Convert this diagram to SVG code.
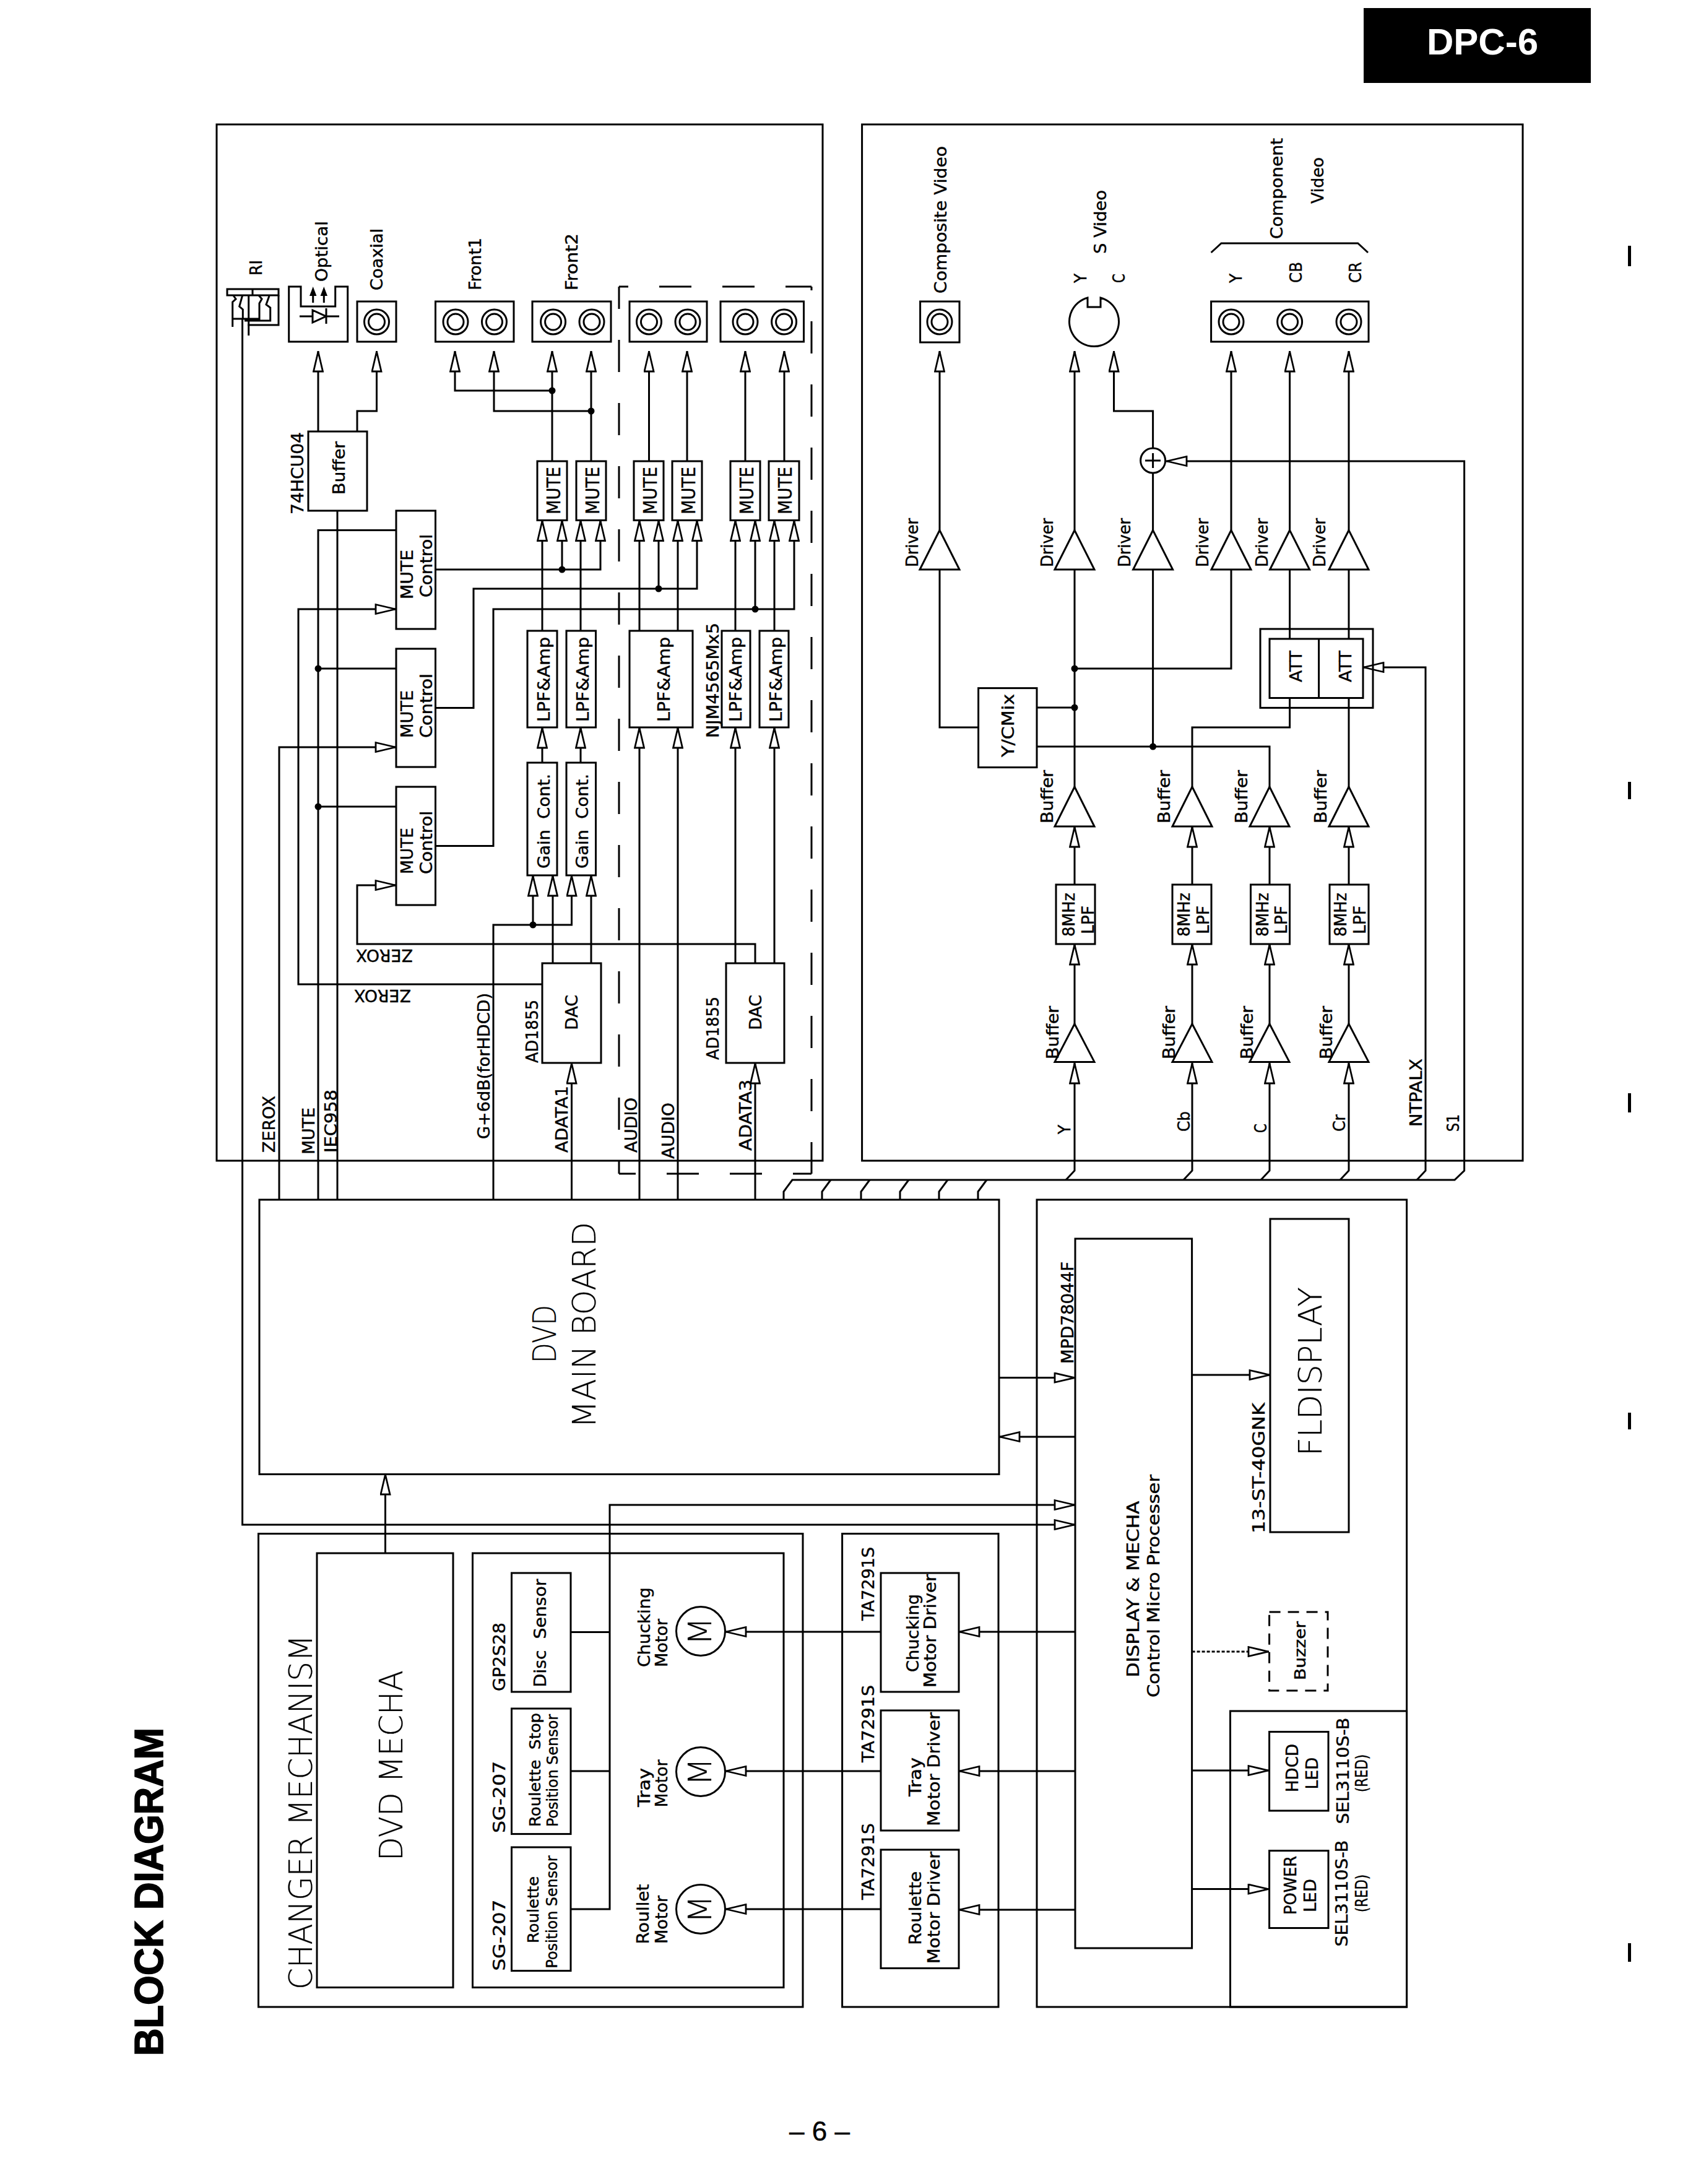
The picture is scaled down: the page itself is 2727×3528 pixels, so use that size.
<svg xmlns="http://www.w3.org/2000/svg" width="2727" height="3528" viewBox="0 0 2727 3528">
<style>
text{font-family:"DejaVu Sans","Liberation Sans",sans-serif;fill:#000;font-size:27px;stroke:#000;stroke-width:.45px}
.s24{font-size:24px}.s30{font-size:30px}
.big{font-size:52px;font-weight:200;stroke-width:.2px}
.head{font-family:"Liberation Sans",Arial,sans-serif;font-weight:700}
.mid{text-anchor:middle}
.box,.wire,.arr,.dash{fill:none;stroke:#000;stroke-width:3;stroke-linejoin:miter}
.arr{marker-end:url(#head)}
.dash{stroke-dasharray:52 50}
.buzz{stroke-dasharray:18 12}
.dot{fill:#000;stroke:none}
.ink{fill:#000;stroke:none}
</style>
<defs>
<marker id="head" markerUnits="userSpaceOnUse" viewBox="0 0 36 18" refX="35" refY="9" markerWidth="36" markerHeight="18" orient="auto">
<path d="M2,1.5 L34,9 L2,16.5 Z" fill="#fff" stroke="#000" stroke-width="2.8"/>
</marker>
</defs>
<rect width="2727" height="3528" fill="#fff"/>

<!-- page furniture -->
<g id="page">
<rect class="ink" x="2203" y="13" width="367" height="121"/>
<text class="head" x="2305" y="88" style="font-size:60px;fill:#fff;stroke:none" textLength="180" lengthAdjust="spacingAndGlyphs">DPC-6</text>
<text class="head" transform="translate(263 3321) rotate(-90)" style="font-size:64px;stroke-width:1.6px" textLength="530" lengthAdjust="spacingAndGlyphs">BLOCK DIAGRAM</text>
<text class="head mid" x="1324" y="3458" style="font-weight:400;font-size:44px">– 6 –</text>
<rect class="ink" x="2630" y="397" width="5" height="33"/>
<rect class="ink" x="2630" y="1263" width="5" height="28"/>
<rect class="ink" x="2630" y="1766" width="5" height="31"/>
<rect class="ink" x="2630" y="2282" width="5" height="27"/>
<rect class="ink" x="2630" y="3139" width="5" height="30"/>
</g>

<!-- enclosing panels -->
<g id="panels">
<rect id="panel-audio" class="box" x="350" y="201" width="979" height="1674"/>
<rect id="panel-video" class="box" x="1392.6" y="201" width="1067.4" height="1674"/>
<rect id="panel-changer" class="box" x="417.5" y="2477.5" width="879.5" height="764.5"/>
<rect id="panel-drivers" class="box" x="1360.6" y="2477.5" width="252.4" height="764.5"/>
<rect id="panel-control" class="box" x="1675" y="1938" width="597.6" height="1304"/>
<rect id="panel-leds" class="box" x="1987.5" y="2764" width="285.1" height="478"/>
<g id="panel-rear-outputs">
<path class="dash" style="stroke-dashoffset:37" d="M1000 463 H1311"/>
<path class="dash" style="stroke-dashoffset:46" d="M1311 463 V1896"/>
<path class="dash" style="stroke-dashoffset:22" d="M1311 1896 H1000"/>
<path class="dash" style="stroke-dashoffset:31" d="M1000 1896 V463"/>
</g>
</g>

<!-- signal wiring -->
<g id="connectors">
<path class="arr" d="M514 697 V567"/>
<path class="arr" d="M577 697 V664 H608.5 V567"/>
<path class="wire" d="M545 825 V1938"/>
<path class="arr" d="M892 745 V567"/><path class="arr" d="M955 745 V567"/>
<path class="arr" d="M1048.5 745 V567"/><path class="arr" d="M1110 745 V567"/>
<path class="arr" d="M1204 745 V567"/><path class="arr" d="M1267 745 V567"/>
<path class="arr" d="M892 631 H735 V567"/><path class="arr" d="M955 664 H798 V567"/>
<path class="wire" d="M640 856.5 H514 V1938"/><path class="wire" d="M514 1080 H640"/><path class="wire" d="M514 1303 H640"/>
<path class="arr" d="M451 1938 V1207 H640"/>
<path class="arr" d="M876 1590 H482 V984 H640"/>
<path class="arr" d="M1220 1556 V1525 H577 V1430 H640"/>
<path class="arr" d="M703.5 920 H970 V840.5"/><path class="arr" d="M908 920 V840.5"/>
<path class="arr" d="M703.5 1143.5 H765 V951 H1126 V840.5"/><path class="arr" d="M1064 951 V840.5"/>
<path class="arr" d="M703.5 1366.6 H797 V984 H1283 V840.5"/><path class="arr" d="M1220 984 V840.5"/>
<path class="arr" d="M876 1019 V840.5"/><path class="arr" d="M938 1019 V840.5"/>
<path class="arr" d="M1033 1019 V840.5"/><path class="arr" d="M1095 1019 V840.5"/>
<path class="arr" d="M1188 1019 V840.5"/><path class="arr" d="M1251 1019 V840.5"/>
<path class="arr" d="M876 1232 V1175"/><path class="arr" d="M938 1232 V1175"/>
<path class="arr" d="M1033 1938 V1175"/><path class="arr" d="M1095 1938 V1175"/>
<path class="arr" d="M1188 1556 V1175"/><path class="arr" d="M1251 1556 V1175"/>
<path class="arr" d="M797 1938 V1494 H923.5 V1414"/><path class="arr" d="M861 1494 V1414"/>
<path class="arr" d="M893 1556 V1414"/><path class="arr" d="M955 1556 V1414"/>
<path class="arr" d="M923.5 1938 V1717"/><path class="arr" d="M1220 1938 V1717"/>

<path class="arr" d="M391.6 515 V2463 H1737"/>
<path class="arr" d="M922 3084 H985 V2431 H1737"/>
<path class="wire" d="M922 2861 H985"/><path class="wire" d="M922 2636.5 H985"/>
<path class="arr" d="M622.5 2509 V2381"/>
<path class="arr" d="M1423 2636 H1172"/><path class="arr" d="M1423 2861 H1172"/><path class="arr" d="M1423 3084 H1172"/>
<path class="arr" d="M1737 2636 H1549"/><path class="arr" d="M1737 2861 H1549"/><path class="arr" d="M1737 3085 H1549"/>
<path class="arr" d="M1614 2225.6 H1737"/><path class="arr" d="M1737 2321 H1614"/>
<path class="arr" d="M1925.6 2221 H2052"/>
<path class="arr" style="stroke-dasharray:5 3" d="M1925.6 2668 H2050"/>
<path class="arr" d="M1925.6 2860 H2050"/><path class="arr" d="M1925.6 3051.6 H2050"/>

<path class="arr" d="M1266 1938 V1925 L1280 1906 H2350 L2365.6 1891 V745 H1884"/>
<path class="wire" d="M1328 1938 V1925 L1342 1906"/>
<path class="wire" d="M1391 1938 V1925 L1405 1906"/>
<path class="wire" d="M1454 1938 V1925 L1468 1906"/>
<path class="wire" d="M1517 1938 V1925 L1531 1906"/>
<path class="wire" d="M1580 1938 V1925 L1594 1906"/>
<path class="arr" d="M2289 1906 L2303 1891 V1078 H2202"/>
<path class="arr" d="M1722 1906 L1736 1891 V1717"/>
<path class="arr" d="M1912 1906 L1926 1891 V1717"/>
<path class="arr" d="M2037 1906 L2051 1891 V1717"/>
<path class="arr" d="M2165 1906 L2179 1891 V1717"/>
<path class="arr" d="M1736 1654 V1525"/><path class="arr" d="M1926 1654 V1525"/>
<path class="arr" d="M2051 1654 V1525"/><path class="arr" d="M2179 1654 V1525"/>
<path class="arr" d="M1736 1429 V1335"/><path class="arr" d="M1926 1429 V1335"/>
<path class="arr" d="M2051 1429 V1335"/><path class="arr" d="M2179 1429 V1335"/>
<path class="wire" d="M1736 1271 V920"/><path class="arr" d="M1736 856 V567"/>
<path class="wire" d="M1675 1143 H1736"/>
<path class="wire" d="M1736 1080 H1989 V920"/><path class="arr" d="M1989 856 V567"/>
<path class="wire" d="M1675 1206 H2051 V1271"/>
<path class="wire" d="M1862.6 1206 V920"/><path class="wire" d="M1862.6 856 V765"/>
<path class="arr" d="M1862.6 723 V664 H1799.5 V567"/>
<path class="wire" d="M1580.6 1175 H1518 V920"/><path class="arr" d="M1518 856 V567"/>
<path class="wire" d="M1926 1271 V1175 H2083.6 V1127.5"/>
<path class="wire" d="M2083.6 1032 V920"/><path class="arr" d="M2083.6 856 V567"/>
<path class="wire" d="M2179 1271 V1127.5"/><path class="wire" d="M2179 1032 V920"/><path class="arr" d="M2179 856 V567"/>

<g id="junctions">
<circle class="dot" cx="892" cy="631" r="5.5"/><circle class="dot" cx="955" cy="664" r="5.5"/>
<circle class="dot" cx="908" cy="920" r="5.5"/><circle class="dot" cx="1064" cy="951" r="5.5"/>
<circle class="dot" cx="1220" cy="984" r="5.5"/><circle class="dot" cx="514" cy="1080" r="5.5"/>
<circle class="dot" cx="514" cy="1303" r="5.5"/><circle class="dot" cx="861" cy="1494" r="5.5"/>
<circle class="dot" cx="1736" cy="1080" r="5.5"/><circle class="dot" cx="1736" cy="1143" r="5.5"/>
<circle class="dot" cx="1862.6" cy="1206" r="5.5"/>
</g>
</g>

<!-- audio board: output jacks -->
<g id="ri-jack">
<path class="box" d="M367 467 H450 V477 H367 Z M408 467 V477"/>
<path class="box" d="M376.7 477 L381 483 L375.7 488 V528 M391.7 477 L386.7 495 L392.3 500 V515 M401.7 477 V542 M418 477 L423 483 L419 490 V515 H376.7 M435 478 L430 492 L436.7 497 V518 H395 M450 477 V525 H400"/>
<text transform="translate(423 445) rotate(-90)" textLength="25" lengthAdjust="spacingAndGlyphs">RI</text>
</g>
<g id="optical-jack">
<path class="box" d="M466.7 463 H486 V495 H541.7 V463 H561.7 V552 H466.7 Z"/>
<path class="box" d="M505.7 489 V473 M523.3 489 V473"/>
<path class="ink" d="M505.7 463 L500 478 H511.4 Z M523.3 463 L517.6 478 H529 Z"/>
<path class="box" d="M484 511 H505 M505 501 V521 L526.7 511 Z M527 498 V523 M527 511 H548"/>
<text transform="translate(529 455) rotate(-90)" textLength="98" lengthAdjust="spacingAndGlyphs">Optical</text>
</g>
<g id="coaxial-jack">
<rect class="box" x="577" y="487" width="63" height="65"/><circle class="box" cx="608.5" cy="520" r="20"/><circle class="box" cx="608.5" cy="520" r="13"/>
<text transform="translate(618 469) rotate(-90)" textLength="100" lengthAdjust="spacingAndGlyphs">Coaxial</text>
</g>
<g id="front1-jack">
<rect class="box" x="703.5" y="487" width="126.5" height="65"/><circle class="box" cx="736" cy="520" r="20"/><circle class="box" cx="736" cy="520" r="13"/><circle class="box" cx="798.5" cy="520" r="20"/><circle class="box" cx="798.5" cy="520" r="13"/>
<text transform="translate(777 469) rotate(-90)" textLength="85" lengthAdjust="spacingAndGlyphs">Front1</text>
</g>
<g id="front2-jack">
<rect class="box" x="860" y="487" width="127" height="65"/><circle class="box" cx="893.6" cy="520" r="20"/><circle class="box" cx="893.6" cy="520" r="13"/><circle class="box" cx="956" cy="520" r="20"/><circle class="box" cx="956" cy="520" r="13"/>
<text transform="translate(933 469) rotate(-90)" textLength="92" lengthAdjust="spacingAndGlyphs">Front2</text>
</g>
<g id="rear1-jack">
<rect class="box" x="1017" y="487" width="125" height="65"/><circle class="box" cx="1048.5" cy="520" r="20"/><circle class="box" cx="1048.5" cy="520" r="13"/><circle class="box" cx="1111" cy="520" r="20"/><circle class="box" cx="1111" cy="520" r="13"/>
</g>
<g id="rear2-jack">
<rect class="box" x="1164" y="487" width="134.5" height="65"/><circle class="box" cx="1204" cy="520" r="20"/><circle class="box" cx="1204" cy="520" r="13"/><circle class="box" cx="1266.6" cy="520" r="20"/><circle class="box" cx="1266.6" cy="520" r="13"/>
</g>

<!-- audio board: processing blocks -->
<g id="buffer-74hcu04">
<rect class="box" x="498" y="697" width="95" height="128"/>
<text transform="translate(490 831) rotate(-90)" textLength="133" lengthAdjust="spacingAndGlyphs">74HCU04</text>
<text transform="translate(557 799) rotate(-90)" textLength="86" lengthAdjust="spacingAndGlyphs">Buffer</text>
</g>
<g id="mute-control-1">
<rect class="box" x="640" y="825" width="63.5" height="191"/>
<text transform="translate(666.5 968) rotate(-90)" textLength="80" lengthAdjust="spacingAndGlyphs">MUTE</text>
<text transform="translate(698 965) rotate(-90)" textLength="102" lengthAdjust="spacingAndGlyphs">Control</text>
</g>
<g id="mute-control-2">
<rect class="box" x="640" y="1048" width="63.5" height="191"/>
<text transform="translate(666.5 1192) rotate(-90)" textLength="77" lengthAdjust="spacingAndGlyphs">MUTE</text>
<text transform="translate(698 1192) rotate(-90)" textLength="104" lengthAdjust="spacingAndGlyphs">Control</text>
</g>
<g id="mute-control-3">
<rect class="box" x="640" y="1271" width="63.5" height="191"/>
<text transform="translate(666.5 1412) rotate(-90)" textLength="75" lengthAdjust="spacingAndGlyphs">MUTE</text>
<text transform="translate(698 1412) rotate(-90)" textLength="102" lengthAdjust="spacingAndGlyphs">Control</text>
</g>
<g id="mute-1"><rect class="box" x="868" y="745" width="48" height="95.5"/><text class="s30" transform="translate(905 831) rotate(-90)" textLength="77" lengthAdjust="spacingAndGlyphs">MUTE</text></g>
<g id="mute-2"><rect class="box" x="931" y="745" width="48" height="95.5"/><text class="s30" transform="translate(968 831) rotate(-90)" textLength="77" lengthAdjust="spacingAndGlyphs">MUTE</text></g>
<g id="mute-3"><rect class="box" x="1024" y="745" width="48" height="95.5"/><text class="s30" transform="translate(1061 831) rotate(-90)" textLength="77" lengthAdjust="spacingAndGlyphs">MUTE</text></g>
<g id="mute-4"><rect class="box" x="1086" y="745" width="48" height="95.5"/><text class="s30" transform="translate(1123 831) rotate(-90)" textLength="77" lengthAdjust="spacingAndGlyphs">MUTE</text></g>
<g id="mute-5"><rect class="box" x="1180" y="745" width="48" height="95.5"/><text class="s30" transform="translate(1217 831) rotate(-90)" textLength="77" lengthAdjust="spacingAndGlyphs">MUTE</text></g>
<g id="mute-6"><rect class="box" x="1242" y="745" width="49" height="95.5"/><text class="s30" transform="translate(1279 831) rotate(-90)" textLength="77" lengthAdjust="spacingAndGlyphs">MUTE</text></g>
<g id="lpf-amp-1"><rect class="box" x="852" y="1019" width="48" height="156"/><text transform="translate(888 1166) rotate(-90)" textLength="137" lengthAdjust="spacingAndGlyphs">LPF&amp;Amp</text></g>
<g id="lpf-amp-2"><rect class="box" x="915" y="1019" width="47.5" height="156"/><text transform="translate(951 1166) rotate(-90)" textLength="137" lengthAdjust="spacingAndGlyphs">LPF&amp;Amp</text></g>
<g id="lpf-amp-3"><rect class="box" x="1017" y="1019" width="102" height="156"/><text transform="translate(1082 1166) rotate(-90)" textLength="137" lengthAdjust="spacingAndGlyphs">LPF&amp;Amp</text></g>
<g id="lpf-amp-4"><rect class="box" x="1166" y="1019" width="46" height="156"/><text transform="translate(1198 1166) rotate(-90)" textLength="137" lengthAdjust="spacingAndGlyphs">LPF&amp;Amp</text></g>
<g id="lpf-amp-5"><rect class="box" x="1227" y="1019" width="47" height="156"/><text transform="translate(1263 1166) rotate(-90)" textLength="137" lengthAdjust="spacingAndGlyphs">LPF&amp;Amp</text></g>
<text id="opamp-label" transform="translate(1161 1192) rotate(-90)" textLength="186" lengthAdjust="spacingAndGlyphs">NJM4565Mx5</text>
<g id="gain-1"><rect class="box" x="852" y="1232" width="48" height="182"/><text transform="translate(888 1403) rotate(-90)" textLength="153" lengthAdjust="spacingAndGlyphs" xml:space="preserve">Gain  Cont.</text></g>
<g id="gain-2"><rect class="box" x="915" y="1232" width="47.5" height="182"/><text transform="translate(950 1403) rotate(-90)" textLength="153" lengthAdjust="spacingAndGlyphs" xml:space="preserve">Gain  Cont.</text></g>
<g id="dac-1">
<rect class="box" x="876" y="1556" width="95" height="161"/>
<text transform="translate(933 1664) rotate(-90)" textLength="57" lengthAdjust="spacingAndGlyphs">DAC</text>
<text transform="translate(869 1717) rotate(-90)" textLength="102" lengthAdjust="spacingAndGlyphs">AD1855</text>
</g>
<g id="dac-2">
<rect class="box" x="1173" y="1556" width="94" height="161"/>
<text transform="translate(1230 1664) rotate(-90)" textLength="57" lengthAdjust="spacingAndGlyphs">DAC</text>
<text transform="translate(1161 1712) rotate(-90)" textLength="102" lengthAdjust="spacingAndGlyphs">AD1855</text>
</g>

<!-- signal names on the audio board -->
<g id="audio-signal-labels">
<text transform="translate(667 1534) rotate(180)" textLength="92" lengthAdjust="spacingAndGlyphs">ZEROX</text>
<text transform="translate(664 1599) rotate(180)" textLength="92" lengthAdjust="spacingAndGlyphs">ZEROX</text>
<text transform="translate(444 1862) rotate(-90)" textLength="92" lengthAdjust="spacingAndGlyphs">ZEROX</text>
<text transform="translate(508 1865) rotate(-90)" textLength="76" lengthAdjust="spacingAndGlyphs">MUTE</text>
<text transform="translate(544 1862) rotate(-90)" textLength="102" lengthAdjust="spacingAndGlyphs">IEC958</text>
<text transform="translate(791 1840) rotate(-90)" textLength="236" lengthAdjust="spacingAndGlyphs">G+6dB(forHDCD)</text>
<text transform="translate(917 1862) rotate(-90)" textLength="108" lengthAdjust="spacingAndGlyphs">ADATA1</text>
<text transform="translate(1214 1859) rotate(-90)" textLength="115" lengthAdjust="spacingAndGlyphs">ADATA3</text>
<text transform="translate(1029 1862) rotate(-90)" textLength="89" lengthAdjust="spacingAndGlyphs">AUDIO</text>
<text transform="translate(1089 1872) rotate(-90)" textLength="91" lengthAdjust="spacingAndGlyphs">AUDIO</text>
</g>

<!-- video board: output jacks -->
<g id="composite-jack">
<rect class="box" x="1486.6" y="487" width="63.4" height="66"/><circle class="box" cx="1518" cy="520" r="20"/><circle class="box" cx="1518" cy="520" r="13"/>
<text transform="translate(1529 474) rotate(-90)" textLength="238" lengthAdjust="spacingAndGlyphs">Composite Video</text>
</g>
<g id="s-video-jack">
<path class="box" d="M1757 481 V496 H1778 V481 A40 40 0 1 1 1757 481 Z"/>
<text transform="translate(1755 457) rotate(-90)" textLength="15" lengthAdjust="spacingAndGlyphs">Y</text>
<text transform="translate(1817 457) rotate(-90)" textLength="15" lengthAdjust="spacingAndGlyphs">C</text>
<text transform="translate(1787 410) rotate(-90)" textLength="103" lengthAdjust="spacingAndGlyphs">S Video</text>
</g>
<g id="component-jack">
<rect class="box" x="1956.6" y="487" width="254.4" height="65"/>
<circle class="box" cx="1989" cy="520" r="20"/><circle class="box" cx="1989" cy="520" r="13"/>
<circle class="box" cx="2083.6" cy="520" r="20"/><circle class="box" cx="2083.6" cy="520" r="13"/>
<circle class="box" cx="2179" cy="520" r="20"/><circle class="box" cx="2179" cy="520" r="13"/>
<path class="box" d="M1956.6 408 L1973 393 H2193.7 L2210 408"/>
<text transform="translate(2006 457) rotate(-90)" textLength="15" lengthAdjust="spacingAndGlyphs">Y</text>
<text transform="translate(2102.5 457) rotate(-90)" textLength="34" lengthAdjust="spacingAndGlyphs">CB</text>
<text transform="translate(2199 457) rotate(-90)" textLength="34" lengthAdjust="spacingAndGlyphs">CR</text>
<text transform="translate(2072 386) rotate(-90)" textLength="163" lengthAdjust="spacingAndGlyphs">Component</text>
<text transform="translate(2137.6 329) rotate(-90)" textLength="75" lengthAdjust="spacingAndGlyphs">Video</text>
</g>
<g id="sync-adder">
<circle class="box" cx="1862.6" cy="744" r="20"/>
<path class="box" d="M1850 744 H1875 M1862.6 732 V756"/>
</g>

<!-- video board: output drivers -->
<g id="driver-composite"><path class="box" d="M1518 856.5 L1486 920 H1550 Z"/><text transform="translate(1483 916) rotate(-90)" textLength="79" lengthAdjust="spacingAndGlyphs">Driver</text></g>
<g id="driver-y"><path class="box" d="M1736 856.5 L1704 920 H1768 Z"/><text transform="translate(1700.6 916) rotate(-90)" textLength="79" lengthAdjust="spacingAndGlyphs">Driver</text></g>
<g id="driver-c"><path class="box" d="M1862.6 856.5 L1830.6 920 H1894.6 Z"/><text transform="translate(1825.5 916) rotate(-90)" textLength="79" lengthAdjust="spacingAndGlyphs">Driver</text></g>
<g id="driver-comp-y"><path class="box" d="M1989 856.5 L1957 920 H2021 Z"/><text transform="translate(1952 916) rotate(-90)" textLength="79" lengthAdjust="spacingAndGlyphs">Driver</text></g>
<g id="driver-cb"><path class="box" d="M2083.6 856.5 L2051.6 920 H2115.6 Z"/><text transform="translate(2048 916) rotate(-90)" textLength="79" lengthAdjust="spacingAndGlyphs">Driver</text></g>
<g id="driver-cr"><path class="box" d="M2179 856.5 L2147 920 H2211 Z"/><text transform="translate(2141 916) rotate(-90)" textLength="79" lengthAdjust="spacingAndGlyphs">Driver</text></g>
<g id="att-pair">
<rect class="box" x="2036" y="1016" width="182" height="127.4"/>
<rect class="box" x="2051" y="1032" width="151" height="95.5"/>
<path class="box" d="M2130.6 1032 V1127.5"/>
<text transform="translate(2102.5 1102) rotate(-90)" textLength="51" lengthAdjust="spacingAndGlyphs">ATT</text>
<text transform="translate(2183 1102) rotate(-90)" textLength="51" lengthAdjust="spacingAndGlyphs">ATT</text>
</g>
<g id="yc-mix">
<rect class="box" x="1580.6" y="1111.6" width="94.4" height="128"/>
<text transform="translate(1638 1223) rotate(-90)" textLength="102" lengthAdjust="spacingAndGlyphs">Y/CMix</text>
</g>

<!-- video board: filter chains, one per channel -->
<g id="chain-y">
<path class="box" d="M1736 1271 L1704 1335 H1768 Z M1736 1654 L1704 1715.4 H1768 Z"/>
<rect class="box" x="1706" y="1429" width="63" height="96"/>
<text transform="translate(1700.6 1330) rotate(-90)" textLength="86" lengthAdjust="spacingAndGlyphs">Buffer</text>
<text transform="translate(1710 1711) rotate(-90)" textLength="86" lengthAdjust="spacingAndGlyphs">Buffer</text>
<text transform="translate(1735.6 1513) rotate(-90)" textLength="71" lengthAdjust="spacingAndGlyphs">8MHz</text>
<text transform="translate(1767 1509) rotate(-90)" textLength="46" lengthAdjust="spacingAndGlyphs">LPF</text>
<text transform="translate(1728.6 1832) rotate(-90)" textLength="15" lengthAdjust="spacingAndGlyphs">Y</text>
</g>
<g id="chain-cb">
<path class="box" d="M1926 1271 L1894 1335 H1958 Z M1926 1654 L1894 1715.4 H1958 Z"/>
<rect class="box" x="1894" y="1429" width="63" height="96"/>
<text transform="translate(1890 1330) rotate(-90)" textLength="86" lengthAdjust="spacingAndGlyphs">Buffer</text>
<text transform="translate(1898 1711) rotate(-90)" textLength="86" lengthAdjust="spacingAndGlyphs">Buffer</text>
<text transform="translate(1922 1513) rotate(-90)" textLength="71" lengthAdjust="spacingAndGlyphs">8MHz</text>
<text transform="translate(1953 1509) rotate(-90)" textLength="46" lengthAdjust="spacingAndGlyphs">LPF</text>
<text transform="translate(1921.6 1828) rotate(-90)" textLength="33" lengthAdjust="spacingAndGlyphs">Cb</text>
</g>
<g id="chain-c">
<path class="box" d="M2051 1271 L2019 1335 H2083 Z M2051 1654 L2019 1715.4 H2083 Z"/>
<rect class="box" x="2020.5" y="1429" width="63" height="96"/>
<text transform="translate(2015 1330) rotate(-90)" textLength="86" lengthAdjust="spacingAndGlyphs">Buffer</text>
<text transform="translate(2024 1711) rotate(-90)" textLength="86" lengthAdjust="spacingAndGlyphs">Buffer</text>
<text transform="translate(2048.5 1513) rotate(-90)" textLength="71" lengthAdjust="spacingAndGlyphs">8MHz</text>
<text transform="translate(2079.4 1509) rotate(-90)" textLength="46" lengthAdjust="spacingAndGlyphs">LPF</text>
<text transform="translate(2046.4 1830) rotate(-90)" textLength="15" lengthAdjust="spacingAndGlyphs">C</text>
</g>
<g id="chain-cr">
<path class="box" d="M2179 1271 L2147 1335 H2211 Z M2179 1654 L2147 1715.4 H2211 Z"/>
<rect class="box" x="2148" y="1429" width="63" height="96"/>
<text transform="translate(2142.5 1330) rotate(-90)" textLength="86" lengthAdjust="spacingAndGlyphs">Buffer</text>
<text transform="translate(2152 1711) rotate(-90)" textLength="86" lengthAdjust="spacingAndGlyphs">Buffer</text>
<text transform="translate(2175 1513) rotate(-90)" textLength="71" lengthAdjust="spacingAndGlyphs">8MHz</text>
<text transform="translate(2206 1509) rotate(-90)" textLength="46" lengthAdjust="spacingAndGlyphs">LPF</text>
<text transform="translate(2172.7 1828) rotate(-90)" textLength="28" lengthAdjust="spacingAndGlyphs">Cr</text>
</g>
<text id="ntpalx-label" transform="translate(2297 1820) rotate(-90)" textLength="110" lengthAdjust="spacingAndGlyphs">NTPALX</text>
<text id="s1-label" transform="translate(2357 1828) rotate(-90)" textLength="28" lengthAdjust="spacingAndGlyphs">S1</text>

<!-- main board -->
<g id="dvd-main-board">
<rect class="box" x="419" y="1938" width="1195" height="443.5"/>
<text class="big" transform="translate(898 2202) rotate(-90)" textLength="94" lengthAdjust="spacingAndGlyphs">DVD</text>
<text class="big" transform="translate(962 2307) rotate(-90)" textLength="333" lengthAdjust="spacingAndGlyphs">MAIN BOARD</text>
</g>

<!-- changer mechanism -->
<text id="changer-title" class="big" transform="translate(503.6 3214) rotate(-90)" textLength="573" lengthAdjust="spacingAndGlyphs">CHANGER MECHANISM</text>
<g id="dvd-mecha">
<rect class="box" x="512" y="2509" width="220" height="701.5"/>
<text class="big" transform="translate(649.5 3006) rotate(-90)" textLength="308" lengthAdjust="spacingAndGlyphs">DVD MECHA</text>
</g>
<rect id="sensor-group" class="box" x="763.5" y="2509" width="502.5" height="701.5"/>
<g id="disc-sensor">
<rect class="box" x="826.5" y="2541" width="95.5" height="192"/>
<text transform="translate(882 2725.5) rotate(-90)" textLength="175" lengthAdjust="spacingAndGlyphs" xml:space="preserve">Disc  Sensor</text>
<text transform="translate(816 2732) rotate(-90)" textLength="111" lengthAdjust="spacingAndGlyphs">GP2S28</text>
</g>
<g id="roulette-stop-sensor">
<rect class="box" x="826.5" y="2760" width="95.5" height="202.6"/>
<text class="s24" transform="translate(873 2951) rotate(-90)" textLength="184" lengthAdjust="spacingAndGlyphs" xml:space="preserve">Roulette  Stop</text>
<text class="s24" transform="translate(900.6 2951) rotate(-90)" textLength="182" lengthAdjust="spacingAndGlyphs">Position Sensor</text>
<text transform="translate(816 2961) rotate(-90)" textLength="116" lengthAdjust="spacingAndGlyphs">SG-207</text>
</g>
<g id="roulette-sensor">
<rect class="box" x="826.5" y="2984" width="95.5" height="199.6"/>
<text class="s24" transform="translate(870 3139) rotate(-90)" textLength="108" lengthAdjust="spacingAndGlyphs">Roulette</text>
<text class="s24" transform="translate(900 3179.5) rotate(-90)" textLength="182" lengthAdjust="spacingAndGlyphs">Position Sensor</text>
<text transform="translate(816 3183.6) rotate(-90)" textLength="115" lengthAdjust="spacingAndGlyphs">SG-207</text>
</g>
<g id="motor-chucking">
<circle class="box" cx="1132" cy="2635" r="39.5"/>
<text class="big mid" transform="translate(1149 2635) rotate(-90)">M</text>
<text transform="translate(1050 2693) rotate(-90)" textLength="129" lengthAdjust="spacingAndGlyphs">Chucking</text>
<text transform="translate(1078 2693) rotate(-90)" textLength="78" lengthAdjust="spacingAndGlyphs">Motor</text>
</g>
<g id="motor-tray">
<circle class="box" cx="1132" cy="2862" r="39.5"/>
<text class="big mid" transform="translate(1149 2862) rotate(-90)">M</text>
<text transform="translate(1050 2919) rotate(-90)" textLength="63" lengthAdjust="spacingAndGlyphs">Tray</text>
<text transform="translate(1078 2919.5) rotate(-90)" textLength="77" lengthAdjust="spacingAndGlyphs">Motor</text>
</g>
<g id="motor-roulette">
<circle class="box" cx="1132" cy="3084" r="39.5"/>
<text class="big mid" transform="translate(1149 3084) rotate(-90)">M</text>
<text transform="translate(1048 3140.5) rotate(-90)" textLength="97" lengthAdjust="spacingAndGlyphs">Roullet</text>
<text transform="translate(1078 3140) rotate(-90)" textLength="78" lengthAdjust="spacingAndGlyphs">Motor</text>
</g>

<!-- motor drivers -->
<g id="driver-chucking">
<rect class="box" x="1423" y="2541" width="126" height="192"/>
<text transform="translate(1484 2701) rotate(-90)" textLength="126" lengthAdjust="spacingAndGlyphs">Chucking</text>
<text transform="translate(1512 2726) rotate(-90)" textLength="183" lengthAdjust="spacingAndGlyphs">Motor Driver</text>
<text transform="translate(1412 2618) rotate(-90)" textLength="119" lengthAdjust="spacingAndGlyphs">TA7291S</text>
</g>
<g id="driver-tray">
<rect class="box" x="1423" y="2763" width="126" height="194"/>
<text transform="translate(1488 2902) rotate(-90)" textLength="63" lengthAdjust="spacingAndGlyphs">Tray</text>
<text transform="translate(1517.6 2950) rotate(-90)" textLength="184" lengthAdjust="spacingAndGlyphs">Motor Driver</text>
<text transform="translate(1412 2847) rotate(-90)" textLength="125" lengthAdjust="spacingAndGlyphs">TA7291S</text>
</g>
<g id="driver-roulette">
<rect class="box" x="1423" y="2988" width="126" height="191.5"/>
<text transform="translate(1488 3141.7) rotate(-90)" textLength="119" lengthAdjust="spacingAndGlyphs">Roulette</text>
<text transform="translate(1517.6 3172) rotate(-90)" textLength="181" lengthAdjust="spacingAndGlyphs">Motor Driver</text>
<text transform="translate(1412 3069) rotate(-90)" textLength="124" lengthAdjust="spacingAndGlyphs">TA7291S</text>
</g>

<!-- control section -->
<g id="control-micro">
<rect class="box" x="1737" y="2001" width="188.6" height="1146"/>
<text transform="translate(1733.7 2203) rotate(-90)" textLength="165" lengthAdjust="spacingAndGlyphs">MPD78044F</text>
<text transform="translate(1840 2709.6) rotate(-90)" textLength="285" lengthAdjust="spacingAndGlyphs">DISPLAY &amp; MECHA</text>
<text transform="translate(1873 2742) rotate(-90)" textLength="360" lengthAdjust="spacingAndGlyphs">Control Micro Processer</text>
</g>
<g id="fl-display">
<rect class="box" x="2052" y="1969" width="127" height="506"/>
<text class="big" transform="translate(2135 2352) rotate(-90)" textLength="273" lengthAdjust="spacingAndGlyphs">FLDISPLAY</text>
<text transform="translate(2043 2477) rotate(-90)" textLength="211" lengthAdjust="spacingAndGlyphs">13-ST-40GNK</text>
</g>
<g id="buzzer">
<rect class="box buzz" x="2050.6" y="2604" width="94.4" height="127"/>
<text class="s24" transform="translate(2108.7 2714) rotate(-90)" textLength="95" lengthAdjust="spacingAndGlyphs">Buzzer</text>
</g>
<g id="hdcd-led">
<rect class="box" x="2050.6" y="2797.5" width="95.4" height="127.5"/>
<text transform="translate(2097 2895) rotate(-90)" textLength="78" lengthAdjust="spacingAndGlyphs">HDCD</text>
<text transform="translate(2129 2890.5) rotate(-90)" textLength="52" lengthAdjust="spacingAndGlyphs">LED</text>
<text transform="translate(2179 2946.5) rotate(-90)" textLength="172" lengthAdjust="spacingAndGlyphs">SEL3110S-B</text>
<text transform="translate(2209 2895) rotate(-90)" textLength="61" lengthAdjust="spacingAndGlyphs">(RED)</text>
</g>
<g id="power-led">
<rect class="box" x="2050.6" y="2989.6" width="95.4" height="124.9"/>
<text transform="translate(2094 3093) rotate(-90)" textLength="95" lengthAdjust="spacingAndGlyphs">POWER</text>
<text transform="translate(2126 3089) rotate(-90)" textLength="54" lengthAdjust="spacingAndGlyphs">LED</text>
<text transform="translate(2177 3144.6) rotate(-90)" textLength="172" lengthAdjust="spacingAndGlyphs">SEL3110S-B</text>
<text transform="translate(2209 3089) rotate(-90)" textLength="61" lengthAdjust="spacingAndGlyphs">(RED)</text>
</g>
</svg>
